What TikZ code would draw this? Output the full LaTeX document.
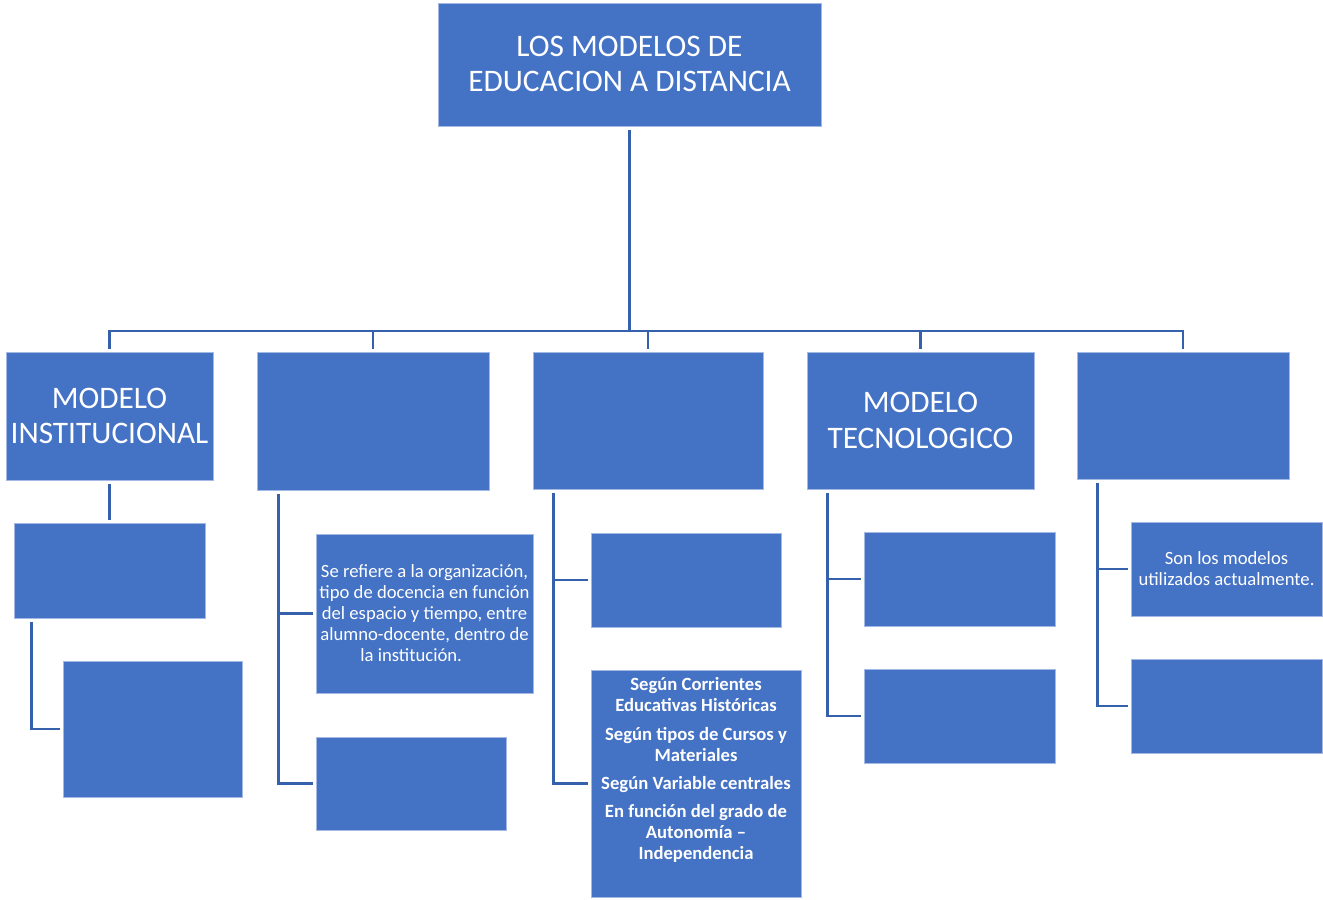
\documentclass[tikz,border=0pt]{standalone}
\usepackage{fontspec}
\setmainfont{Carlito}
\usetikzlibrary{fit}
\definecolor{boxfill}{HTML}{4472C4}
\definecolor{boxedge}{HTML}{A4BAE4}
\definecolor{linecol}{HTML}{3560AC}
\begin{document}
\begin{tikzpicture}[x=0.75pt,y=-0.75pt,
  bx/.style={fill=boxfill,draw=boxedge,line width=0.5pt,inner sep=0pt},
  txt/.style={text=white,align=center,inner sep=0pt},
  big/.style={font=\fontsize{23.5}{26.5}\selectfont},
  small/.style={font=\fontsize{14}{15.75}\selectfont},
  ln/.style={draw=linecol,line width=2.2pt,line cap=butt,shorten >=2pt}]
\useasboundingbox (0,0) rectangle (1323,899);
% root
\node[bx,fit={(438,3)(821,126)}] (root) {};
\node[txt,big] (roottext) at ([yshift=0.5pt]root.center) {LOS MODELOS DE\\EDUCACION A DISTANCIA};
% level 1
\node[bx,fit={(6,352)(213,480)}] (b1) {};
\node[txt,big] (b1text) at (b1.center) {MODELO\\INSTITUCIONAL};
\node[bx,fit={(257,352)(489,490)}] (b2) {};
\node[bx,fit={(533,352)(763,489)}] (b3) {};
\node[bx,fit={(807,352)(1034,489)}] (b4) {};
\node[txt,big] (b4text) at (b4.center) {MODELO\\TECNOLOGICO};
\node[bx,fit={(1077,352)(1289,479)}] (b5) {};
% level 2
\node[bx,fit={(14,523)(205,618)}] (b1a) {};
\node[bx,fit={(63,661)(242,797)}] (b1b) {};
\node[bx,fit={(316,534)(533,693)}] (b2a) {};
\node[txt,small] (b2atext) at (b2a.center) {Se refiere a la organización,\\tipo de docencia en función\\del espacio y tiempo, entre\\alumno-docente, dentro de\\la institución.\hspace*{20pt}};
\node[bx,fit={(316,737)(506,830)}] (b2b) {};
\node[bx,fit={(591,533)(781,627)}] (b3a) {};
\node[bx,fit={(591,670)(801,897)}] (b3b) {};
\node[txt,anchor=north,font=\bfseries\fontsize{14}{15.75}\selectfont] (b3text) at (696,677.5)
  {Según Corrientes\\Educativas Históricas\\[5.5pt]Según tipos de Cursos y\\Materiales\\[5.5pt]Según Variable centrales\\[5.5pt]En función del grado de\\Autonomía --\\Independencia};
\node[bx,fit={(864,532)(1055,626)}] (b4a) {};
\node[bx,fit={(864,669)(1055,763)}] (b4b) {};
\node[bx,fit={(1131,522)(1322,616)}] (b5a) {};
\node[txt,small] (b5atext) at (b5a.center) {Son los modelos\\utilizados actualmente.};
\node[bx,fit={(1131,659)(1322,753)}] (b5b) {};
% connectors
\coordinate (hub) at (629.5,331);
\draw[ln,shorten >=0pt,shorten <=3pt] (root.south) -- (hub);
\foreach \b in {b1,b2,b3,b4,b5} \draw[ln] (hub) -| (\b.north);
\draw[ln,shorten <=3pt] (b1.south) -- (b1a.north);
\draw[ln,shorten <=3pt] ([xshift=18*0.75pt]b1a.south west) |- (b1b.west);
\draw[ln,shorten <=3pt] ([xshift=22*0.75pt]b2.south west) |- (b2a.west);
\draw[ln,shorten <=3pt] ([xshift=22*0.75pt]b2.south west) |- (b2b.west);
\draw[ln,shorten <=3pt] ([xshift=21*0.75pt]b3.south west) |- (b3a.west);
\draw[ln,shorten <=3pt] ([xshift=21*0.75pt]b3.south west) |- (b3b.west);
\draw[ln,shorten <=3pt] ([xshift=21*0.75pt]b4.south west) |- (b4a.west);
\draw[ln,shorten <=3pt] ([xshift=21*0.75pt]b4.south west) |- (b4b.west);
\draw[ln,shorten <=3pt] ([xshift=21*0.75pt]b5.south west) |- (b5a.west);
\draw[ln,shorten <=3pt] ([xshift=21*0.75pt]b5.south west) |- (b5b.west);
\end{tikzpicture}
\end{document}
